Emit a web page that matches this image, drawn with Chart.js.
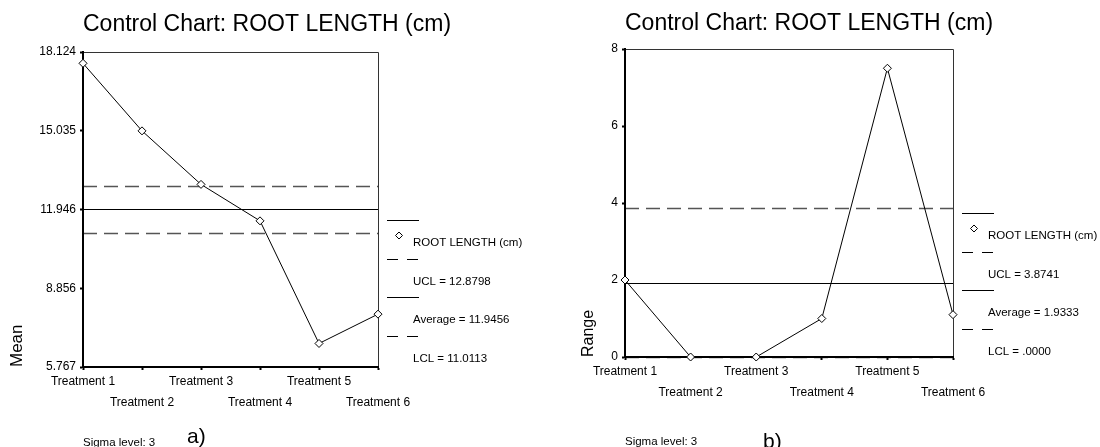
<!DOCTYPE html>
<html>
<head>
<meta charset="utf-8">
<script src="https://cdn.jsdelivr.net/npm/chart.js@4.4.1/dist/chart.umd.min.js"></script>
<style>
  body { margin: 0; background: #fff; }
  #wrapMean { position: absolute; left: 0; top: 0; }
  #wrapRange { position: absolute; left: 540px; top: 0; }
</style>
</head>
<body>
<div id="wrapMean"><canvas id="meanChart" width="540" height="447"></canvas></div>
<div id="wrapRange"><canvas id="rangeChart" width="560" height="447"></canvas></div>
<script>
// data
const treatments = ["Treatment 1", "Treatment 2", "Treatment 3", "Treatment 4", "Treatment 5", "Treatment 6"];
const meanValues = [17.68, 15.03, 12.93, 11.50, 6.69, 7.84];
const rangeValues = [2.0, 0, 0, 1.0, 7.5, 1.1];
const meanTicks = [5.767, 8.856, 11.946, 15.035, 18.124];
const rangeTicks = [0, 2, 4, 6, 8];
const meanLimits = [12.8798, 11.9456, 11.0113];   // UCL, Average, LCL
const rangeLimits = [3.8741, 1.9333, 0];
const limitNames = ["UCL", "Average", "LCL"];
const seriesName = "ROOT LENGTH (cm)";
const chartTitle = "Control Chart: ROOT LENGTH (cm)";

Chart.defaults.font.family = '"Liberation Sans", Arial, sans-serif';
Chart.defaults.color = '#000';

// SPSS prints .0000 instead of 0.0000
function spss(v) {
  return v.toFixed(4).replace(/^0\./, '.');
}

const limitDash = [[14, 7], [], [14, 7]];
const limitColor = ['#555', '#000', '#555'];
const limitWidth = [1.5, 1, 1.5];

const controlDecor = {
  id: 'controlDecor',
  beforeDraw(chart, args, o) {
    const { ctx, chartArea: a, scales: { y } } = chart;
    ctx.save();
    // plot frame (top + right)
    ctx.strokeStyle = '#333';
    ctx.lineWidth = 1;
    ctx.beginPath();
    ctx.moveTo(a.left, a.top + 0.5);
    ctx.lineTo(a.right + 0.5, a.top + 0.5);
    ctx.lineTo(a.right + 0.5, a.bottom);
    ctx.stroke();
    // control limits
    o.limits.forEach((v, i) => {
      const py = Math.round(y.getPixelForValue(v)) + 0.5;
      ctx.setLineDash(limitDash[i]);
      ctx.strokeStyle = limitColor[i];
      ctx.lineWidth = limitWidth[i];
      ctx.beginPath();
      ctx.moveTo(a.left, py);
      ctx.lineTo(a.right, py);
      ctx.stroke();
    });
    ctx.restore();
  },
  afterDraw(chart, args, o) {
    const { ctx, chartArea: a } = chart;
    ctx.save();
    ctx.fillStyle = '#000';
    ctx.textBaseline = 'alphabetic';
    ctx.font = '23px "Liberation Sans", Arial, sans-serif';
    ctx.fillText(chartTitle, a.left, o.titleY);

    // legend to the right of the plot
    const lx = a.right + 9;
    const tx = a.right + 35;
    let ly = o.legendTop;
    const step = 38.5;
    ctx.strokeStyle = '#000';
    ctx.lineWidth = 1;
    ctx.font = '11.5px "Liberation Sans", Arial, sans-serif';
    ctx.textBaseline = 'middle';
    const items = [seriesName].concat(o.limits.map((v, i) => limitNames[i] + ' = ' + spss(v)));
    const samples = [[], [11, 9], [], [11, 9]];
    items.forEach((txt, i) => {
      const sy = Math.round(ly + i * step) + 0.5;
      ctx.setLineDash(samples[i]);
      ctx.beginPath();
      ctx.moveTo(lx, sy);
      ctx.lineTo(lx + 32, sy);
      ctx.stroke();
      ctx.setLineDash([]);
      if (i === 0) {
        const dx = a.right + 21, dy = sy + 15;
        ctx.beginPath();
        ctx.moveTo(dx, dy - 3.5);
        ctx.lineTo(dx + 3.5, dy);
        ctx.lineTo(dx, dy + 3.5);
        ctx.lineTo(dx - 3.5, dy);
        ctx.closePath();
        ctx.fillStyle = '#fff';
        ctx.fill();
        ctx.stroke();
        ctx.fillStyle = '#000';
      }
      ctx.fillText(txt, tx, sy + 22.5);
    });

    // footer
    ctx.textBaseline = 'alphabetic';
    ctx.font = '11.5px "Liberation Sans", Arial, sans-serif';
    ctx.fillText('Sigma level: 3', a.left, o.sigmaY);
    ctx.font = '21px "Liberation Sans", Arial, sans-serif';
    ctx.fillText(o.tag, a.left + o.tagX, o.tagY);
    ctx.restore();
  }
};

function controlChart(id, cfg) {
  return new Chart(document.getElementById(id), {
    type: 'line',
    data: {
      labels: treatments,
      datasets: [{
        label: seriesName,
        data: cfg.values,
        borderColor: '#000',
        borderWidth: 1,
        tension: 0,
        pointStyle: 'rectRot',
        pointRadius: 4,
        pointBackgroundColor: '#fff',
        pointBorderColor: '#000',
        pointBorderWidth: 1,
        clip: false
      }]
    },
    options: {
      responsive: false,
      animation: false,
      devicePixelRatio: 1,
      layout: { padding: { left: 0, top: cfg.top, right: cfg.right, bottom: cfg.bottom } },
      plugins: {
        legend: { display: false },
        tooltip: { enabled: false },
        controlDecor: cfg.decor
      },
      scales: {
        x: {
          offset: false,
          grid: { drawOnChartArea: false, tickLength: 3, tickWidth: 2, color: '#000' },
          border: { color: '#000', width: 2 },
          ticks: {
            autoSkip: false,
            maxRotation: 0,
            minRotation: 0,
            padding: 1,
            font: { size: 12, lineHeight: 1.75 },
            callback: (v, i) => i % 2 === 0 ? [treatments[i]] : ['', treatments[i]]
          },
          afterFit: s => { s.height = 50; }
        },
        y: {
          min: cfg.ticks[0],
          max: cfg.ticks[cfg.ticks.length - 1],
          afterBuildTicks: s => { s.ticks = cfg.ticks.map(v => ({ value: v })); },
          grid: { drawOnChartArea: false, tickLength: 3, tickWidth: 2, color: '#000' },
          border: { color: '#000', width: 2 },
          ticks: { padding: 4, font: { size: 12 }, callback: cfg.fmt },
          title: {
            display: true,
            text: cfg.yTitle,
            align: 'start',
            font: { size: cfg.yTitleSize },
            padding: { top: cfg.yTitlePad, bottom: 0 }
          },
          afterFit: s => { s.width = cfg.yWidth; }
        }
      }
    },
    plugins: [controlDecor]
  });
}

// a) Mean chart
controlChart('meanChart', {
  values: meanValues,
  ticks: meanTicks,
  fmt: v => Number(v).toFixed(3),
  yTitle: 'Mean',
  yTitleSize: 17,
  yTitlePad: 7,
  yWidth: 83,
  top: 52, right: 162, bottom: 30,
  decor: { limits: meanLimits, titleY: 31, legendTop: 220, sigmaY: 446, tag: 'a)', tagX: 104, tagY: 443 }
});

// b) Range chart
controlChart('rangeChart', {
  values: rangeValues,
  ticks: rangeTicks,
  fmt: v => String(v),
  yTitle: 'Range',
  yTitleSize: 16,
  yTitlePad: 39,
  yWidth: 85,
  top: 49, right: 147, bottom: 40,
  decor: { limits: rangeLimits, titleY: 30, legendTop: 213, sigmaY: 445, tag: 'b)', tagX: 138, tagY: 448 }
});
</script>
</body>
</html>
